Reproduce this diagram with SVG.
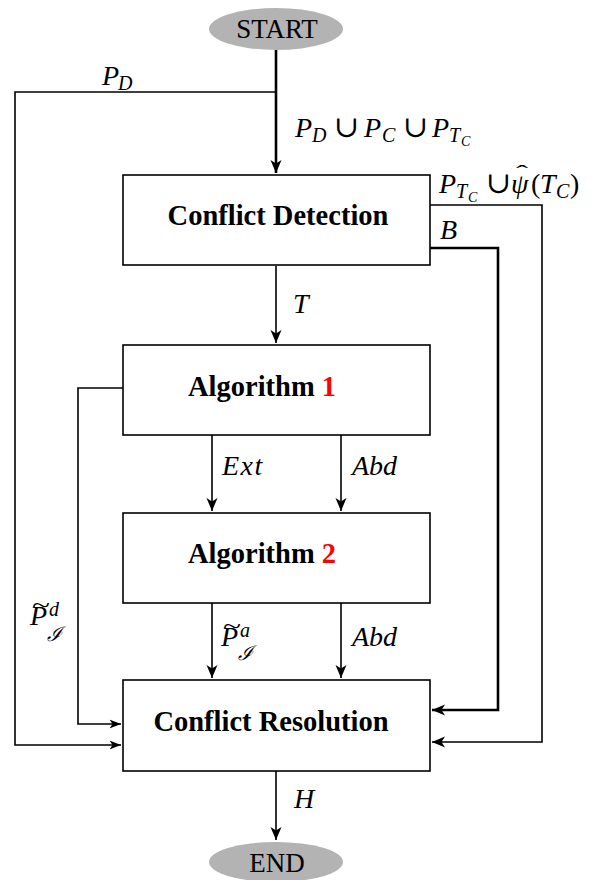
<svg xmlns="http://www.w3.org/2000/svg" width="597" height="880" viewBox="0 0 597 880">
  <defs>
    <marker id="arr" markerWidth="14" markerHeight="12" viewBox="0 0 14 12" refX="13" refY="6" orient="auto" markerUnits="userSpaceOnUse">
      <path d="M0,0.5 L13,6 L0,11.5 L3.5,6 Z" fill="#000"/>
    </marker>
    <marker id="arrS" markerWidth="12" markerHeight="10" viewBox="0 0 12 10" refX="11.5" refY="5" orient="auto" markerUnits="userSpaceOnUse">
      <path d="M0,0.5 L11.5,5 L0,9.5 L3,5 Z" fill="#000"/>
    </marker>
    <style>
      .box { fill: #fff; stroke: #000; stroke-width: 1.6; }
      .term { fill: #b3b3b3; stroke: none; }
      .title { font-family: "Liberation Serif", "DejaVu Serif", serif; font-weight: bold; font-size: 28.5px; text-anchor: middle; }
      .termtxt { font-family: "Liberation Serif", "DejaVu Serif", serif; font-size: 27px; text-anchor: middle; }
      .m { font-family: "Liberation Serif", "DejaVu Serif", serif; font-style: italic; font-size: 28px; }
      .up { font-style: normal; }
      .cup { font-style: normal; font-size: 30px; }
      .sub { font-size: 20px; }
      .subsub { font-size: 14px; }
      .acc { font-style: normal; font-size: 22px; }
      .red { fill: #ff0000; }
      .ln { fill: none; stroke: #000; stroke-width: 1.6; }
      .thick { fill: none; stroke: #000; stroke-width: 2.6; }
    </style>
  </defs>

  <!-- connectors -->
  <g id="connectors">
    <path class="thick" d="M276,50 V173" marker-end="url(#arr)"/>
    <path class="ln" d="M276,92 H15 V745 H121" marker-end="url(#arrS)"/>
    <path class="ln" d="M430,205 H542 V742 H432" marker-end="url(#arr)"/>
    <path class="thick" d="M430,248 H498 V710 H432" marker-end="url(#arr)"/>
    <path class="ln" d="M276,266 V343" marker-end="url(#arr)"/>
    <path class="ln" d="M123,388 H78 V724 H121" marker-end="url(#arrS)"/>
    <path class="ln" d="M212,435 V511" marker-end="url(#arr)"/>
    <path class="ln" d="M341,435 V511" marker-end="url(#arr)"/>
    <path class="ln" d="M212,603 V678" marker-end="url(#arr)"/>
    <path class="ln" d="M341,603 V678" marker-end="url(#arr)"/>
    <path class="ln" d="M276,771 V840" marker-end="url(#arr)"/>

    <!-- connector labels -->
    <text class="m" x="102" y="85">P<tspan class="sub" x="118" y="90">D</tspan></text>

    <text class="m" x="295" y="137">P<tspan class="sub" x="312" y="142">D</tspan><tspan class="cup" x="334" y="137">∪</tspan><tspan x="364">P</tspan><tspan class="sub" x="382" y="142">C</tspan><tspan class="cup" x="403" y="137">∪</tspan><tspan x="432">P</tspan><tspan class="sub" x="449" y="142">T</tspan><tspan class="subsub" x="461" y="146">C</tspan></text>

    <text class="m" x="439" y="193">P<tspan class="sub" x="456" y="198">T</tspan><tspan class="subsub" x="468" y="202">C</tspan><tspan class="cup" x="486" y="193">∪</tspan><tspan x="511">ψ</tspan><tspan class="acc" x="516" y="180" textLength="12" lengthAdjust="spacingAndGlyphs">ˆ</tspan><tspan class="up" x="531" y="193">(</tspan><tspan x="540">T</tspan><tspan class="sub" x="556" y="198">C</tspan><tspan class="up" x="570" y="193">)</tspan></text>

    <text class="m" x="440" y="239">B</text>
    <text class="m" x="293" y="313">T</text>
    <text class="m" x="222" y="475" letter-spacing="1.5">Ext</text>
    <text class="m" x="352" y="475">Abd</text>

    <text class="m" x="30" y="625">P<tspan class="acc" x="32" y="612" textLength="18" lengthAdjust="spacingAndGlyphs">~</tspan><tspan class="sub" x="49" y="616">d</tspan><tspan class="sub" x="47" y="641">ℐ</tspan></text>

    <text class="m" x="221" y="646">P<tspan class="acc" x="223" y="633" textLength="18" lengthAdjust="spacingAndGlyphs">~</tspan><tspan class="sub" x="240" y="637">a</tspan><tspan class="sub" x="238" y="660">ℐ</tspan></text>

    <text class="m" x="352" y="646">Abd</text>
    <text class="m" x="294" y="808">H</text>
  </g>

  <g id="start">
    <ellipse class="term" cx="276" cy="29" rx="67" ry="21"/>
    <text class="termtxt" x="277" y="38">START</text>
  </g>

  <g id="conflict-detection">
    <rect class="box" x="123" y="175" width="307" height="90"/>
    <text class="title" x="278" y="225">Conflict Detection</text>
  </g>

  <g id="algorithm-1">
    <rect class="box" x="123" y="345" width="307" height="90"/>
    <text class="title" x="262" y="396">Algorithm <tspan class="red">1</tspan></text>
  </g>

  <g id="algorithm-2">
    <rect class="box" x="123" y="513" width="307" height="90"/>
    <text class="title" x="262" y="563">Algorithm <tspan class="red">2</tspan></text>
  </g>

  <g id="conflict-resolution">
    <rect class="box" x="123" y="680" width="307" height="91"/>
    <text class="title" x="271" y="731">Conflict Resolution</text>
  </g>

  <g id="end">
    <ellipse class="term" cx="276" cy="862" rx="67" ry="20"/>
    <text class="termtxt" x="277" y="872">END</text>
  </g>
</svg>
